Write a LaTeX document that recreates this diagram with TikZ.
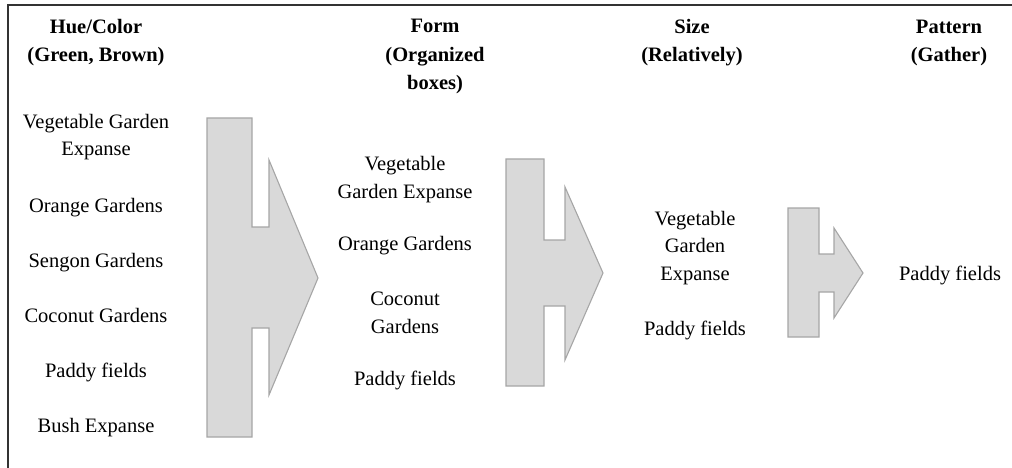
\documentclass[tikz,border=0pt]{standalone}
\usepackage{fontspec}
\setmainfont{Liberation Serif}
\begin{document}
\begin{tikzpicture}[x=1pt,y=-1pt,
  txt/.style={inner sep=0pt,anchor=base,align=center,font=\fontsize{20.5}{27.5}\selectfont},
  hdr/.style={txt,font=\fontsize{20.5}{28.5}\selectfont\bfseries},
  blockarrow/.style={fill=gray!30,draw=black!35,line width=1.1pt,line join=miter}]
\useasboundingbox (0,0) rectangle (1012,468);
\coordinate (bl) at (8,468);
\coordinate (tl) at (8,5);
\coordinate (tr) at (1012,5);
\draw[line width=1.8pt,black!80] (bl) -- (tl) -- (tr);
% headers (anchor = baseline of last line)
\node[hdr] (h1) at (96,62) {Hue/Color\\(Green, Brown)};
\node[hdr] (h2) at (435,90) {Form\\(Organized\\boxes)};
\node[hdr] (h3) at (692,62) {Size\\(Relatively)};
\node[hdr] (h4) at (949,62) {Pattern\\(Gather)};
% column 1
\node[txt] (a1) at (96,156) {Vegetable Garden\\Expanse};
\node[txt] (a2) at (96,212) {Orange Gardens};
\node[txt] (a3) at (96,267) {Sengon Gardens};
\node[txt] (a4) at (96,322) {Coconut Gardens};
\node[txt] (a5) at (96,377) {Paddy fields};
\node[txt] (a6) at (96,432) {Bush Expanse};
% column 2
\node[txt] (b1) at (405,198) {Vegetable\\Garden Expanse};
\node[txt] (b2) at (405,250) {Orange Gardens};
\node[txt] (b3) at (405,333) {Coconut\\Gardens};
\node[txt] (b4) at (405,385) {Paddy fields};
% column 3
\node[txt] (c1) at (695,280) {Vegetable\\Garden\\Expanse};
\node[txt] (c2) at (695,335) {Paddy fields};
% column 4
\node[txt] (d1) at (950,280) {Paddy fields};
% block arrows
\draw[blockarrow] (207,118) -- (252,118) -- (252,227) -- (269,227) -- (269,160) -- (318,278) -- (269,395) -- (269,328) -- (252,328) -- (252,437) -- (207,437) -- cycle;
\draw[blockarrow] (506,159) -- (544,159) -- (544,240) -- (565,240) -- (565,187) -- (603,273) -- (565,360) -- (565,306) -- (544,306) -- (544,386) -- (506,386) -- cycle;
\draw[blockarrow] (788,208) -- (819,208) -- (819,254) -- (834,254) -- (834,228) -- (863,273) -- (834,318) -- (834,292) -- (819,292) -- (819,337) -- (788,337) -- cycle;
\end{tikzpicture}
\end{document}
